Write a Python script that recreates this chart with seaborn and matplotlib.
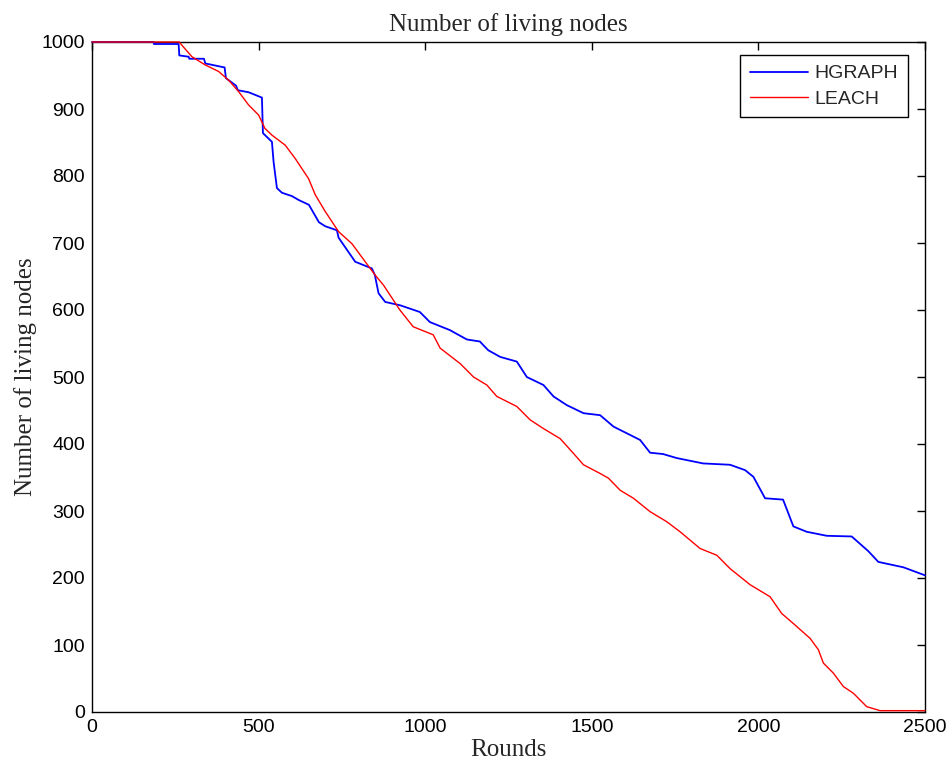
import matplotlib
matplotlib.use("Agg")
import matplotlib.pyplot as plt
import seaborn as sns
import pandas as pd

hgraph_rounds = [0, 185, 186, 260, 262, 290, 292, 336, 340, 398, 402, 432, 438, 470, 510, 513, 540, 545, 555, 570, 600, 621, 651, 681, 700, 735, 740, 790, 840, 849, 860, 880, 925, 984, 1014, 1074, 1125, 1164, 1189, 1225, 1275, 1305, 1355, 1385, 1425, 1475, 1525, 1565, 1625, 1645, 1675, 1714, 1755, 1834, 1915, 1960, 1985, 2020, 2074, 2105, 2145, 2205, 2280, 2330, 2360, 2435, 2500]
hgraph_nodes = [1000, 1000, 997, 997, 980, 978, 975, 975, 968, 962, 946, 935, 928, 925, 917, 864, 851, 821, 782, 775, 770, 764, 757, 731, 725, 719, 708, 672, 662, 652, 625, 612, 607, 597, 582, 570, 556, 553, 540, 530, 523, 500, 488, 471, 458, 446, 443, 426, 411, 406, 387, 385, 379, 371, 369, 361, 351, 319, 317, 277, 269, 263, 262, 240, 224, 216, 204]

leach_rounds = [0, 262, 270, 300, 339, 380, 410, 440, 470, 500, 519, 540, 580, 610, 650, 670, 700, 740, 780, 820, 850, 875, 924, 964, 1024, 1045, 1105, 1145, 1185, 1215, 1275, 1315, 1355, 1405, 1445, 1475, 1525, 1550, 1585, 1625, 1675, 1725, 1765, 1825, 1875, 1915, 1975, 2035, 2070, 2105, 2155, 2180, 2195, 2225, 2255, 2285, 2325, 2365, 2500]
leach_nodes = [1000, 1000, 995, 978, 966, 956, 943, 926, 906, 891, 871, 861, 846, 826, 796, 772, 747, 717, 699, 672, 652, 637, 600, 575, 563, 543, 520, 500, 488, 471, 456, 436, 423, 408, 386, 369, 356, 349, 331, 319, 299, 284, 269, 244, 234, 214, 190, 172, 147, 132, 110, 93, 73, 58, 38, 28, 8, 2, 2]

x_ticks = [0, 500, 1000, 1500, 2000, 2500]
y_ticks = list(range(0, 1001, 100))

sns.set_style("white")
plt.rcParams['font.family'] = ['Liberation Sans', 'DejaVu Sans']

fig = plt.figure(figsize=(9.48, 7.71), dpi=100)
ax = fig.add_axes([92/948, 59/771, 833/948, 670/771])

df_h = pd.DataFrame({"Rounds": hgraph_rounds, "Nodes": hgraph_nodes})
df_l = pd.DataFrame({"Rounds": leach_rounds, "Nodes": leach_nodes})

sns.lineplot(data=df_h, x="Rounds", y="Nodes", ax=ax, color="#0000FF", linewidth=1.3,
             estimator=None, sort=False, label="HGRAPH", clip_on=False, zorder=3)
sns.lineplot(data=df_l, x="Rounds", y="Nodes", ax=ax, color="#FF0000", linewidth=1.0,
             estimator=None, sort=False, label="LEACH", clip_on=False, zorder=3)

ax.set_xlim(0, 2500)
ax.set_ylim(0, 1000)
ax.set_xticks(x_ticks)
ax.set_yticks(y_ticks)
ax.tick_params(direction="in", length=6, width=1, top=True, right=True,
               labelsize=14, colors="black", pad=5)
for s in ax.spines.values():
    s.set_visible(True)
    s.set_color("black")
    s.set_linewidth(1.0)

serif = ['Liberation Serif', 'DejaVu Serif']
ax.set_title("Number of living nodes", family=serif, fontsize=18, pad=8)
ax.set_xlabel("Rounds", family=serif, fontsize=18, labelpad=2)
ax.set_ylabel("Number of living nodes", family=serif, fontsize=18, labelpad=3)

leg = ax.legend(loc="upper right", fancybox=False, edgecolor="black", framealpha=1,
                fontsize=14, handlelength=3.0, handletextpad=0.35, borderpad=0.5,
                labelspacing=0.4, borderaxespad=0,
                bbox_to_anchor=((908 - 92) / 833, (712 - 55) / 670))
leg.get_frame().set_linewidth(1.0)

fig.savefig("out.png", dpi=100)
